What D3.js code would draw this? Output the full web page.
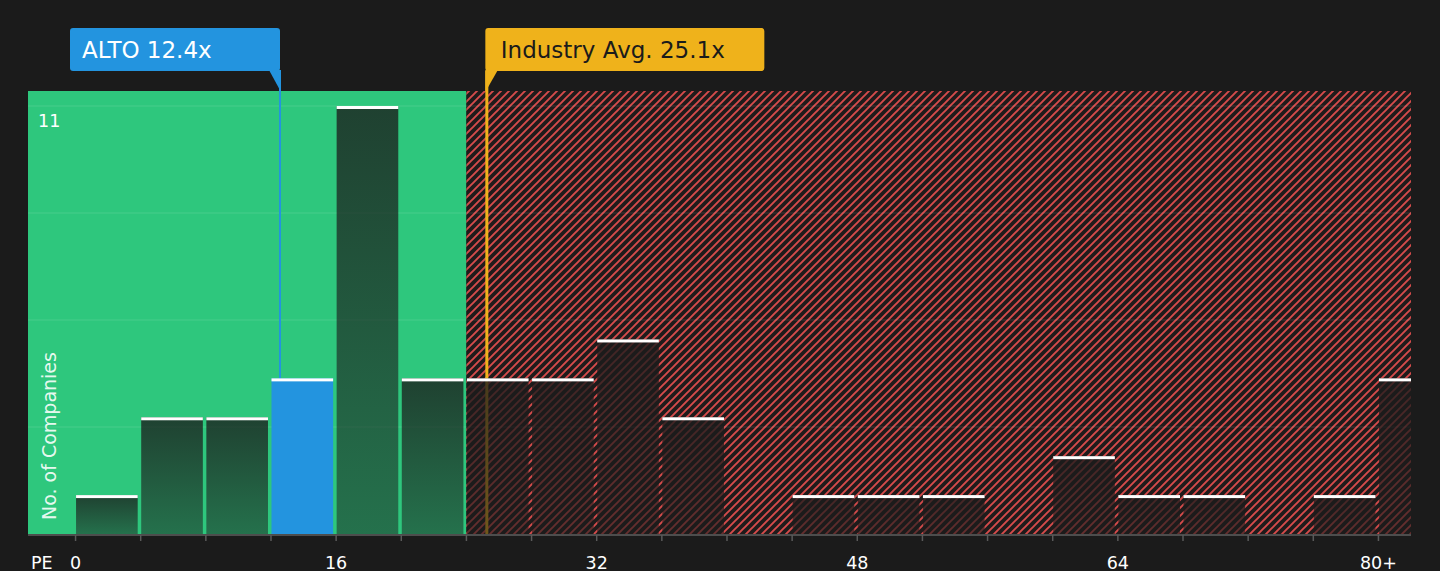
<!DOCTYPE html>
<html>
<head>
<meta charset="utf-8">
<script src="https://cdn.jsdelivr.net/npm/d3@7"></script>
<style>
  html, body { margin: 0; padding: 0; background: #1b1b1b; }
  svg { display: block; font-family: "DejaVu Sans", sans-serif; }
</style>
</head>
<body>
<svg id="chart" width="1440" height="571"></svg>
<script>
// ── Data ────────────────────────────────────────────────────────
const binStarts = [0, 4, 8, 12, 16, 20, 24, 28, 32, 36, 40, 44, 48, 52, 56, 60, 64, 68, 72, 76, 80];
const binCounts = [1, 3, 3, 4, 11, 4, 4, 4, 5, 3, 0, 1, 1, 1, 0, 2, 1, 1, 0, 1, 4];
const tickValues = [0, 16, 32, 48, 64, 80];
const tickLabels = ['0', '16', '32', '48', '64', '80+'];
const companyPE = 12.4;
const industryPE = 25.1;
const fairLimit = 24;      // green zone ends here
const binSize = 4;
const yMax = 11;

// ── Layout ──────────────────────────────────────────────────────
const plot = { left: 28, right: 1411, top: 91, bottom: 534 };
const markerShift = 2.5;   // marker lines sit a little right of the value

const svg = d3.select('#chart');
const defs = svg.append('defs');

const x = d3.scaleLinear().domain([-2.92, 82]).range([plot.left, plot.right]);
const y = d3.scaleLinear().domain([0, yMax]).range([plot.bottom, 106]);

// hatch for the overvalued zone
const hatch = defs.append('pattern')
  .attr('id', 'hatch')
  .attr('patternUnits', 'userSpaceOnUse')
  .attr('width', 8).attr('height', 8);
hatch.append('rect').attr('width', 8).attr('height', 8).attr('fill', '#1f1b1b');
hatch.append('path')
  .attr('d', 'M-2,2 L2,-2 M0,8 L8,0 M6,10 L10,6')
  .attr('stroke', '#d64b4b')
  .attr('stroke-width', 1.9);

// bar overlay gradient (dark at top, lighter towards the bottom)
const grad = defs.append('linearGradient')
  .attr('id', 'barGrad')
  .attr('x1', 0).attr('y1', 0).attr('x2', 0).attr('y2', 1);
grad.append('stop').attr('offset', '0%').attr('stop-color', '#1b1b1b').attr('stop-opacity', 0.78);
grad.append('stop').attr('offset', '100%').attr('stop-color', '#1b1b1b').attr('stop-opacity', 0.5);

const gradRed = defs.append('linearGradient')
  .attr('id', 'barGradRed')
  .attr('x1', 0).attr('y1', 0).attr('x2', 0).attr('y2', 1);
gradRed.append('stop').attr('offset', '0%').attr('stop-color', '#1b1b1b').attr('stop-opacity', 0.8);
gradRed.append('stop').attr('offset', '100%').attr('stop-color', '#1b1b1b').attr('stop-opacity', 0.6);

defs.append('clipPath').attr('id', 'plotClip')
  .append('rect')
  .attr('x', plot.left).attr('y', plot.top)
  .attr('width', plot.right - plot.left).attr('height', plot.bottom - plot.top);

// ── Zones ───────────────────────────────────────────────────────
svg.append('rect')
  .attr('x', plot.left).attr('y', plot.top)
  .attr('width', x(fairLimit) - plot.left).attr('height', plot.bottom - plot.top)
  .attr('fill', '#2ec77d');

svg.append('rect')
  .attr('x', x(fairLimit)).attr('y', plot.top)
  .attr('width', plot.right - x(fairLimit)).attr('height', plot.bottom - plot.top)
  .attr('fill', 'url(#hatch)');

// gridlines
const gridVals = [yMax / 4, yMax / 2, yMax * 3 / 4, yMax];
svg.append('g').selectAll('line').data(gridVals).join('line')
  .attr('x1', plot.left).attr('x2', plot.right)
  .attr('y1', d => y(d)).attr('y2', d => y(d))
  .attr('stroke', '#ffffff').attr('stroke-opacity', 0.12).attr('stroke-width', 1);

// ── Marker lines ────────────────────────────────────────────────
const cx = x(companyPE) + markerShift;
const ix = x(industryPE) + markerShift;

svg.append('line')
  .attr('x1', ix).attr('x2', ix)
  .attr('y1', 71).attr('y2', plot.bottom)
  .attr('stroke', '#efb21b').attr('stroke-width', 3);

svg.append('line')
  .attr('x1', cx).attr('x2', cx)
  .attr('y1', 71).attr('y2', plot.bottom)
  .attr('stroke', '#2394df').attr('stroke-width', 2);

// ── Bars ────────────────────────────────────────────────────────
const bars = binStarts.map((s, i) => ({ start: s, count: binCounts[i] }))
  .filter(d => d.count > 0);

const barG = svg.append('g').attr('clip-path', 'url(#plotClip)');

function barFill(d) {
  if (companyPE >= d.start && companyPE < d.start + binSize) return '#2394df';
  return d.start < fairLimit ? 'url(#barGrad)' : 'url(#barGradRed)';
}

barG.selectAll('rect.bar').data(bars).join('rect')
  .attr('class', 'bar')
  .attr('x', d => x(d.start) + 0.5)
  .attr('y', d => y(d.count))
  .attr('width', d => x(d.start + binSize) - x(d.start) - 3.5)
  .attr('height', d => plot.bottom - y(d.count))
  .attr('fill', barFill);

barG.selectAll('rect.cap').data(bars).join('rect')
  .attr('class', 'cap')
  .attr('x', d => x(d.start) + 0.5)
  .attr('y', d => y(d.count))
  .attr('width', d => x(d.start + binSize) - x(d.start) - 3.5)
  .attr('height', 3)
  .attr('fill', '#ffffff');

// ── Axis ────────────────────────────────────────────────────────
svg.append('line')
  .attr('x1', plot.left).attr('x2', plot.right)
  .attr('y1', plot.bottom + 1).attr('y2', plot.bottom + 1)
  .attr('stroke', '#4d4d4d').attr('stroke-width', 2);

svg.append('g').selectAll('line').data(binStarts).join('line')
  .attr('x1', d => x(d)).attr('x2', d => x(d))
  .attr('y1', plot.bottom + 1).attr('y2', plot.bottom + 7)
  .attr('stroke', '#5a5a5a').attr('stroke-width', 1.5);

svg.append('g').selectAll('text').data(tickValues).join('text')
  .attr('x', d => x(d)).attr('y', 569)
  .attr('text-anchor', 'middle')
  .attr('fill', '#ffffff').attr('font-size', 17.5)
  .text((d, i) => tickLabels[i]);

svg.append('text')
  .attr('x', 31).attr('y', 569)
  .attr('fill', '#ffffff').attr('font-size', 17.5)
  .text('PE');

svg.append('text')
  .attr('x', 38).attr('y', 127)
  .attr('fill', '#ffffff').attr('font-size', 17.5)
  .text(yMax);

svg.append('text')
  .attr('transform', 'translate(56,520) rotate(-90)')
  .attr('fill', '#ffffff').attr('fill-opacity', 0.9).attr('font-size', 19)
  .text('No. of Companies');

// ── Callouts ────────────────────────────────────────────────────
svg.append('rect')
  .attr('x', cx - 210).attr('y', 28).attr('width', 210).attr('height', 43)
  .attr('rx', 3).attr('fill', '#2394df');
svg.append('path')
  .attr('d', `M${cx - 11},70 L${cx + 1},70 L${cx + 1},92 Z`)
  .attr('fill', '#2394df');
svg.append('text')
  .attr('x', cx - 198).attr('y', 58)
  .attr('fill', '#ffffff').attr('font-size', 23)
  .text(`ALTO ${companyPE}x`);

svg.append('rect')
  .attr('x', ix - 1.5).attr('y', 28).attr('width', 279).attr('height', 43)
  .attr('rx', 3).attr('fill', '#efb21b');
svg.append('path')
  .attr('d', `M${ix - 1.5},70 L${ix + 11},70 L${ix - 1.5},92 Z`)
  .attr('fill', '#efb21b');
svg.append('text')
  .attr('x', ix + 14).attr('y', 58)
  .attr('fill', '#1b1b1b').attr('font-size', 23)
  .text(`Industry Avg. ${industryPE}x`);
</script>
</body>
</html>
